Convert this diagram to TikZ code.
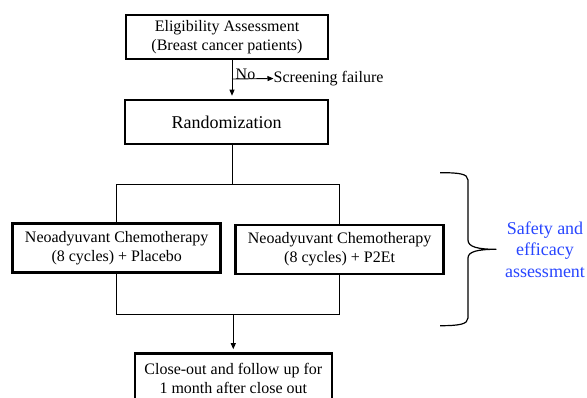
\documentclass[tikz,border=0pt]{standalone}
\usepackage{fontspec}
\setmainfont{Liberation Serif}
\usetikzlibrary{arrows.meta}
\definecolor{safeblue}{RGB}{40,70,255}
\begin{document}
\begin{tikzpicture}[x=1pt,y=-1pt,
  boxstyle/.style={draw=black,line width=2.6pt,align=center,inner sep=0pt,
    font=\fontsize{16}{19}\selectfont},
  conn/.style={draw=black,line width=0.9pt},
  arr/.style={conn,-{Triangle[length=6pt,width=5pt]}},
  txt/.style={inner sep=0pt,font=\fontsize{16}{19}\selectfont}]
\useasboundingbox[fill=white] (0,0) rectangle (587,398);
% boxes
\node[boxstyle,minimum width=202pt,minimum height=44pt] (elig) at (227,37)
  {Eligibility Assessment\\(Breast cancer patients)};
\node[boxstyle,minimum width=203pt,minimum height=44pt,font=\fontsize{18}{21}\selectfont] (rand) at (226.5,122)
  {Randomization};
\node[boxstyle,minimum width=208pt,minimum height=49pt] (lbox) at (116.7,248)
  {Neoadyuvant Chemotherapy\\(8 cycles) + Placebo};
\node[boxstyle,minimum width=208pt,minimum height=49pt] (rbox) at (339.6,249.6)
  {Neoadyuvant Chemotherapy\\(8 cycles) + P2Et};
\node[boxstyle,minimum width=197pt,minimum height=50pt] (close) at (233.3,378.5)
  {Close-out and follow up for\\1 month after close out};
% screening failure
\coordinate (j1) at (232,79);
\node[txt,anchor=west] (fail) at (273.5,78.5) {Screening failure};
\node[txt,anchor=south west] (no) at (235.5,80) {No};
\draw[arr,shorten >=3pt] (elig.south -| j1) -- (rand.north -| j1);
\draw[arr] (j1) -- (fail.west);
% randomization split
\coordinate (jt) at (232,184);
\draw[conn] (rand.south -| jt) -- (jt);
\draw[conn] (lbox.north) -- (lbox.north |- jt) -- (rbox.north |- jt) -- ([yshift=-2pt]rbox.north);
% merge
\coordinate (jb) at (233.3,314.5);
\draw[conn] ([yshift=2.5pt]lbox.south) -- (lbox.south |- jb) -- (rbox.south |- jb) -- ([yshift=1.5pt]rbox.south);
\draw[arr,shorten >=3pt] (jb) -- (close.north);
% brace
\coordinate (btip) at (496,249.3);
\draw[line width=1.2pt,line join=round]
  (440,172.7) .. controls (458,172.7) and (468,173.5) .. (468,180)
  -- (468,240) .. controls (468,247) and (478,249.3) .. (btip)
  .. controls (478,249.3) and (468,251.5) .. (468,258)
  -- (468,318) .. controls (468,324.5) and (458,325.7) .. (440,325.7);
\node[inner sep=0pt,align=center,text=safeblue,font=\fontsize{18}{21.5}\selectfont] (safety) at (545,249.5)
  {Safety and\\efficacy\\assessment};
\end{tikzpicture}
\end{document}
